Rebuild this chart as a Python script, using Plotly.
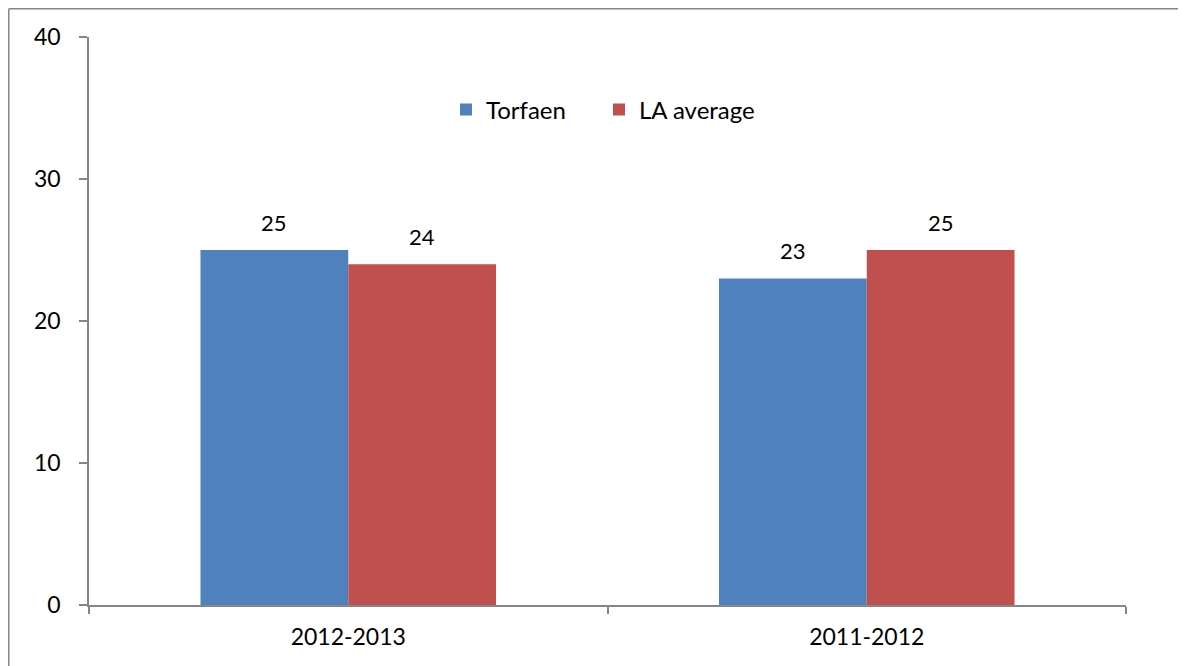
import plotly.graph_objects as go

categories = ["2012-2013", "2011-2012"]
torfaen = [25, 23]
la_average = [24, 25]
y_ticks = [0, 10, 20, 30, 40]

# page has an 8px body margin; figure is placed at (8, 8)
OFF = 8
W, H = 1186, 666
L, R, T, B = 89, 1126, 37, 605  # plot area in page pixels

font_family = "Lato, Carlito, Calibri, sans-serif"
FS = 23

fig = go.Figure()
fig.add_trace(go.Bar(name="Torfaen", x=categories, y=torfaen, marker_color="#4F81BD",
                     marker_line_width=0, legend="legend"))
fig.add_trace(go.Bar(name="LA average", x=categories, y=la_average, marker_color="#C0504D",
                     marker_line_width=0, legend="legend2"))

# data labels above bars
for vals, shift in ((torfaen, -74), (la_average, 74)):
    for c, v in zip(categories, vals):
        fig.add_annotation(x=c, y=v, text=str(v), showarrow=False, xshift=shift, yshift=28,
                           yanchor="middle", font=dict(size=FS - 1, color="black", family=font_family))

def px_x(p):
    return (p - L) / (R - L)

def px_y(p):
    return (B - p) / (B - T)

# outer chart border (left and top edges visible)
border = dict(color="#868686", width=1.5)
fig.add_shape(type="line", xref="paper", yref="paper", x0=px_x(8.8), x1=px_x(8.8),
              y0=px_y(8.8), y1=px_y(700), line=border, layer="above")
fig.add_shape(type="line", xref="paper", yref="paper", x0=px_x(8.8), x1=px_x(1250),
              y0=px_y(8.8), y1=px_y(8.8), line=border, layer="above")

legend_common = dict(orientation="h", xanchor="left", yanchor="middle",
                     font=dict(size=FS + 1), itemwidth=30, bgcolor="rgba(0,0,0,0)")

fig.update_layout(
    width=W, height=H,
    margin=dict(l=L - OFF, r=W - (R - OFF), t=T - OFF, b=H - (B - OFF), pad=0),
    plot_bgcolor="white", paper_bgcolor="white",
    barmode="group", bargap=0.43, bargroupgap=0,
    font=dict(family=font_family, size=FS, color="black"),
    legend=dict(x=px_x(446), y=px_y(110), **legend_common),
    legend2=dict(x=px_x(599), y=px_y(110), **legend_common),
    showlegend=True,
)
fig.update_xaxes(showline=True, linecolor="#868686", linewidth=1.5, ticks="outside",
                 tickson="boundaries", ticklen=7, tickcolor="#868686", tickwidth=1.5,
                 showgrid=False, tickfont=dict(size=FS), ticklabelstandoff=11)
fig.update_yaxes(range=[0, 40], tickvals=y_ticks, showline=True, linecolor="#868686",
                 linewidth=1.5, ticks="outside", ticklen=8, tickcolor="#868686", tickwidth=1.5,
                 showgrid=False, zeroline=False, tickfont=dict(size=FS), ticklabelstandoff=14)

fig.write_html("out.html")
